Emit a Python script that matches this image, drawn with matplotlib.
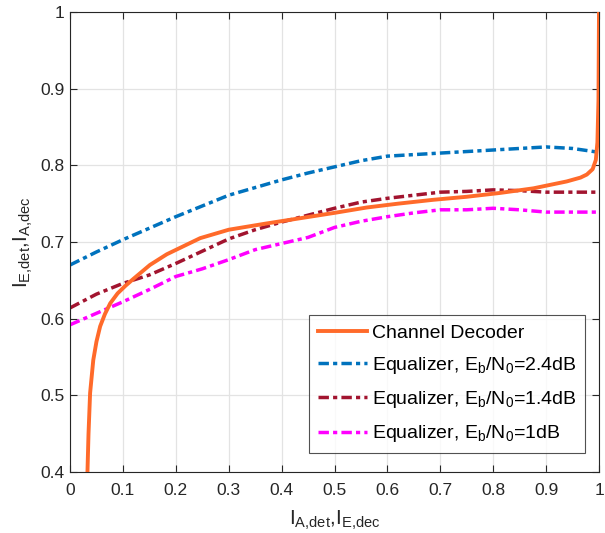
import matplotlib
matplotlib.use("Agg")
import matplotlib.pyplot as plt

plt.rcParams['font.family'] = ['Liberation Sans', 'DejaVu Sans']
plt.rcParams['mathtext.fontset'] = 'custom'
plt.rcParams['mathtext.rm'] = 'Liberation Sans'
plt.rcParams['mathtext.it'] = 'Liberation Sans'

# Channel decoder EXIT curve (x: I_A,dec / y: I_E,dec)
dec_x = [0.033, 0.035, 0.038, 0.044, 0.050, 0.057, 0.066, 0.076, 0.090, 0.105, 0.120,
         0.151, 0.183, 0.246, 0.300, 0.370, 0.435, 0.500, 0.561, 0.620, 0.686, 0.750,
         0.813, 0.876, 0.939, 0.965, 0.977, 0.988, 0.994, 0.997, 0.999, 1.000]
dec_y = [0.400, 0.450, 0.503, 0.546, 0.570, 0.590, 0.606, 0.620, 0.633, 0.643, 0.652,
         0.670, 0.684, 0.705, 0.716, 0.724, 0.731, 0.738, 0.745, 0.750, 0.755, 0.759,
         0.764, 0.770, 0.779, 0.784, 0.788, 0.795, 0.807, 0.830, 0.885, 1.000]

# Equalizer EXIT curves
eq_x = [0.0, 0.05, 0.1, 0.15, 0.2, 0.25, 0.3, 0.35, 0.4, 0.45, 0.5, 0.55, 0.6, 0.65,
        0.7, 0.75, 0.8, 0.85, 0.9, 0.95, 1.0]
eq24_y = [0.670, 0.687, 0.703, 0.718, 0.733, 0.747, 0.761, 0.771, 0.781, 0.790, 0.798,
          0.806, 0.812, 0.814, 0.816, 0.818, 0.820, 0.822, 0.824, 0.822, 0.817]
eq14_y = [0.614, 0.632, 0.646, 0.657, 0.672, 0.688, 0.704, 0.716, 0.726, 0.735, 0.744,
          0.752, 0.757, 0.761, 0.765, 0.766, 0.768, 0.767, 0.765, 0.765, 0.765]
eq10_y = [0.592, 0.607, 0.622, 0.638, 0.655, 0.665, 0.677, 0.690, 0.698, 0.706, 0.719,
          0.727, 0.733, 0.738, 0.742, 0.742, 0.744, 0.742, 0.739, 0.739, 0.739]

labels = ['Channel Decoder',
          r'Equalizer, E$_\mathregular{b}$/N$_\mathregular{0}$=2.4dB',
          r'Equalizer, E$_\mathregular{b}$/N$_\mathregular{0}$=1.4dB',
          r'Equalizer, E$_\mathregular{b}$/N$_\mathregular{0}$=1dB']

fig = plt.figure(figsize=(6.05, 5.33), dpi=100)
ax = fig.add_axes([70/605, 1-472/533, 529/605, 460/533])

dd = (3.0, 1.2, 1.2, 1.2)
ax.plot(dec_x, dec_y, '-', color='#FF6A2A', lw=2.8, label=labels[0], zorder=5)
ax.plot(eq_x, eq24_y, '-.', color='#0072BD', lw=2.5, label=labels[1], dashes=dd)
ax.plot(eq_x, eq14_y, '-.', color='#A2142F', lw=2.5, label=labels[2], dashes=dd)
ax.plot(eq_x, eq10_y, '-.', color='#FF00FF', lw=2.5, label=labels[3], dashes=dd)

ax.set_xlim(0, 1)
ax.set_ylim(0.4, 1)
ax.set_xticks([0, 0.1, 0.2, 0.3, 0.4, 0.5, 0.6, 0.7, 0.8, 0.9, 1])
ax.set_xticklabels(['0', '0.1', '0.2', '0.3', '0.4', '0.5', '0.6', '0.7', '0.8', '0.9', '1'])
ax.set_yticks([0.4, 0.5, 0.6, 0.7, 0.8, 0.9, 1])
ax.set_yticklabels(['0.4', '0.5', '0.6', '0.7', '0.8', '0.9', '1'])
ax.grid(True, color='#E3E3E3', lw=0.9)
ax.set_axisbelow(True)
ax.tick_params(direction='in', length=5, width=0.8, colors='#262626',
               labelsize=12.5, top=True, right=True)
ax.tick_params(axis='x', pad=8)
ax.tick_params(axis='y', pad=4)
for s in ax.spines.values():
    s.set_color('#262626')
    s.set_linewidth(0.8)

ax.set_xlabel(r'$\mathregular{I_{A{,}det}}$,$\mathregular{I_{E{,}dec}}$', fontsize=15,
              color='#262626', labelpad=8)
ax.set_ylabel(r'$\mathregular{I_{E{,}det}}$,$\mathregular{I_{A{,}dec}}$', fontsize=15,
              color='#262626', labelpad=4)

leg = ax.legend(loc='lower right', bbox_to_anchor=(0.9735, 0.041), fontsize=14,
                frameon=True, fancybox=False, handlelength=2.5, handletextpad=0.25,
                borderpad=0.45, labelspacing=0.68, borderaxespad=0)
leg.get_frame().set_edgecolor('#262626')
leg.get_frame().set_linewidth(0.8)

fig.savefig('out.png', dpi=100)
